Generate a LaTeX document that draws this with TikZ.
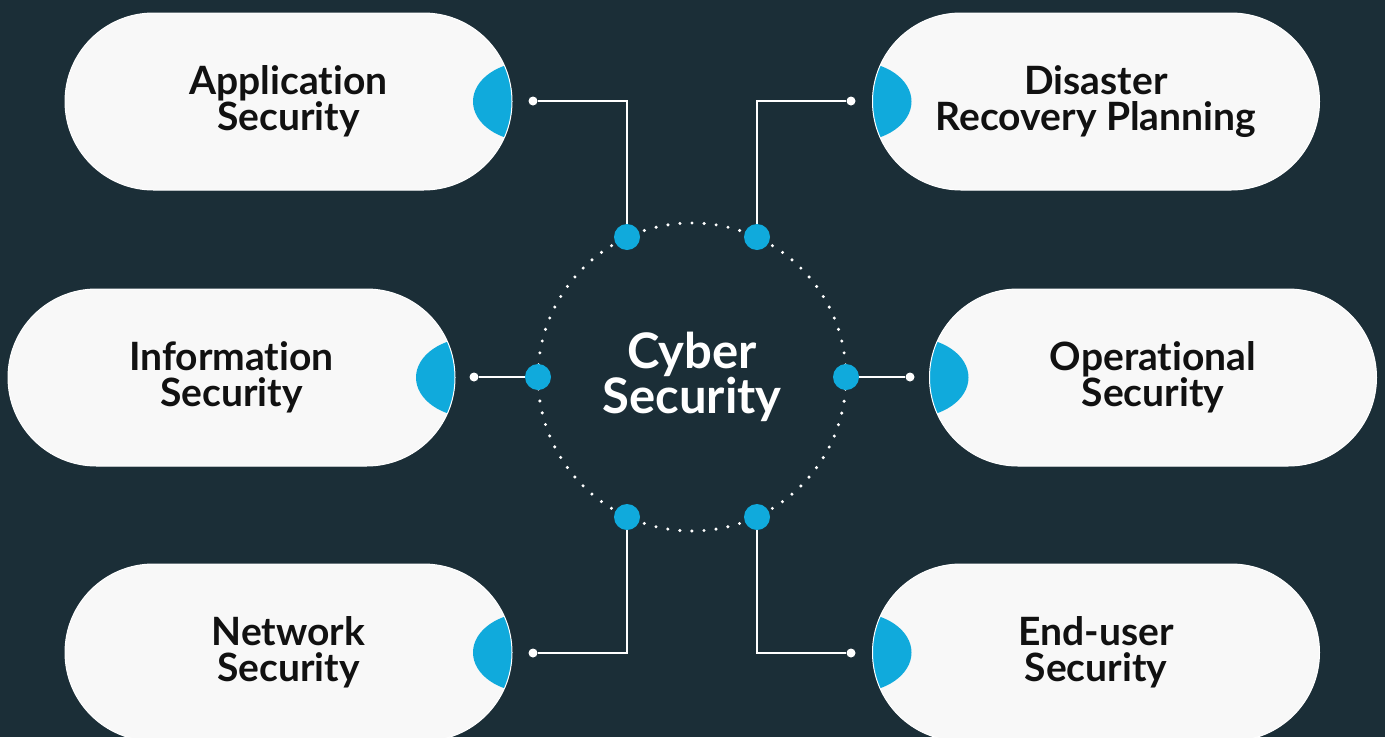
\documentclass[tikz,border=0pt]{standalone}
\usepackage{fontspec}
\setmainfont{Lato}[Ligatures={NoCommon}]
\definecolor{bg}{HTML}{1B2E37}
\definecolor{accent}{HTML}{10AADC}
\definecolor{pillfill}{HTML}{F8F8F8}
\definecolor{ink}{HTML}{111111}
\begin{document}
\begin{tikzpicture}[x=1pt,y=-1pt,
  pill/.style={rectangle, rounded corners=88.4pt, minimum width=447pt, minimum height=177pt,
    fill=pillfill, draw=white, line width=1pt, inner sep=0pt, align=center, text=ink,
    font=\bfseries\fontsize{39}{36}\selectfont},
  lensright/.style={path picture={\fill[accent] ([xshift=18pt]path picture bounding box.east) ellipse [x radius=57pt, y radius=40pt];}},
  lensleft/.style={path picture={\fill[accent] ([xshift=-18pt]path picture bounding box.west) ellipse [x radius=57pt, y radius=40pt];}},
  bdot/.style={circle, fill=accent, minimum size=26pt, inner sep=0pt},
  wdot/.style={circle, fill=white, minimum size=9pt, inner sep=0pt},
  conn/.style={draw=white, line width=2.2pt},
  hubstyle/.style={circle, minimum size=308pt, inner sep=0pt, draw=white, line width=3.4pt,
    line cap=round, dash pattern=on 0pt off 12.095pt, text=white, align=center,
    font=\bfseries\fontsize{49}{45}\selectfont}
]
\fill[bg] (0,0) rectangle (1385,737);
\useasboundingbox (0,0) rectangle (1385,737);

\node[pill, lensright] (app) at (288.5,101.5) {Application\\Security};
\node[pill, lensright] (info) at (231.5,377.5) {Information\\Security};
\node[pill, lensright] (net) at (288.5,652.5) {Network\\Security};
\node[pill, lensleft] (dis) at (1096,101.5) {Disaster\\Recovery Planning};
\node[pill, lensleft] (ops) at (1153,377.5) {Operational\\Security};
\node[pill, lensleft] (end) at (1096,652.5) {End-user\\Security};

\node[hubstyle] (hub) at (692,377) {Cyber\\Security};

\node[wdot] (wapp) at (533,101) {};
\node[wdot] (winfo) at (474,377) {};
\node[wdot] (wnet) at (533,653) {};
\node[wdot] (wdis) at (851,101) {};
\node[wdot] (wops) at (910,377) {};
\node[wdot] (wend) at (851,653) {};

\draw[conn] (wapp) -| (627,237);
\draw[conn] (wdis) -| (757,237);
\draw[conn] (winfo) -- (538,377);
\draw[conn] (wops) -- (846,377);
\draw[conn] (wnet) -| (627,517);
\draw[conn] (wend) -| (757,517);

\node[bdot] (bapp) at (627,237) {};
\node[bdot] (bdis) at (757,237) {};
\node[bdot] (binfo) at (538,377) {};
\node[bdot] (bops) at (846,377) {};
\node[bdot] (bnet) at (627,517) {};
\node[bdot] (bend) at (757,517) {};
\end{tikzpicture}
\end{document}
